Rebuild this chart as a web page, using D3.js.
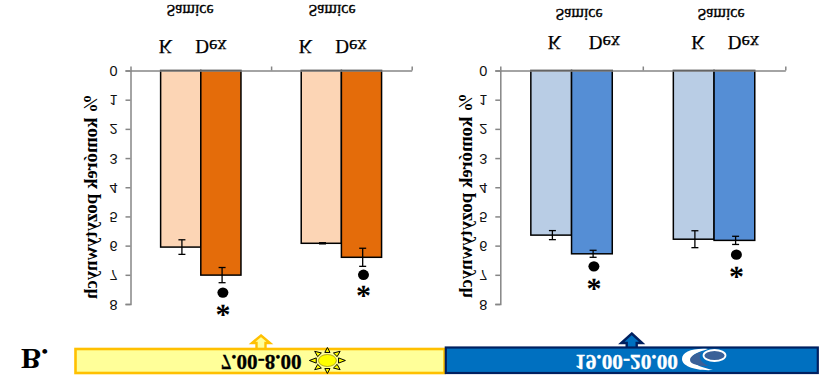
<!DOCTYPE html>
<html>
<head>
<meta charset="utf-8">
<script src="https://cdn.jsdelivr.net/npm/d3@7"></script>
<style>
  html, body { margin: 0; padding: 0; background: #fff; }
  svg { display: block; }
  text { fill: #000; }
  .serif { font-family: "Liberation Serif", serif; }
  .tick text { font-family: "Liberation Sans", sans-serif; font-size: 14.5px; fill: #111; }
</style>
</head>
<body>
<div id="chart"></div>
<script>
// picture is upside down in the source, so every text gets flipped on its own
const groups = ["Samice 1", "Samice 2"];
const groupLabel = "Samice";
const barLabels = ["K", "Dex"];
const yTicks = [0, 1, 2, 3, 4, 5, 6, 7, 8];
const yTitle = "% komórek pozytywnych";

const morningK = [6.05, 5.92];
const morningDex = [7.01, 6.4];
const morningKErr = [0.25, 0.02];
const morningDexErr = [0.26, 0.31];
const morningDot = [7.61, 7.0];
const morningStar = [8.27, 7.62];

const eveningK = [5.64, 5.78];
const eveningDex = [6.28, 5.82];
const eveningKErr = [0.155, 0.29];
const eveningDexErr = [0.12, 0.14];
const eveningDot = [6.71, 6.31];
const eveningStar = [7.38, 6.98];

const width = 820;
const height = 390;

const svg = d3.select("#chart").append("svg")
  .attr("width", width)
  .attr("height", height);

function flipText(parent, str, x, y, size, opts = {}) {
  return parent.append("text")
    .attr("class", "serif")
    .attr("transform", `translate(${x},${y}) scale(1,-1)`)
    .attr("text-anchor", opts.anchor || "middle")
    .attr("font-size", size)
    .attr("font-weight", opts.weight || "normal")
    .style("fill", opts.fill || "#000")
    .text(str);
}

const y = d3.scaleLinear().domain([0, 8]).range([70.5, 304]);

function drawPanel(p) {
  const g = svg.append("g");
  const xGroup = d3.scaleBand().domain(groups).range([p.left, p.right]);
  const xBar = d3.scaleBand().domain(barLabels)
    .range([0, xGroup.bandwidth()]).paddingOuter(p.outer);
  const xEdge = d3.scaleLinear().domain([0, groups.length]).range([p.left, p.right]);

  const rows = groups.flatMap((name, i) => [
    { name, bar: "K", value: p.k[i], err: p.kErr[i], fill: p.light },
    { name, bar: "Dex", value: p.dex[i], err: p.dexErr[i], fill: p.dark }
  ]);

  g.selectAll(".bar").data(rows).enter().append("rect")
    .attr("class", "bar")
    .attr("x", d => xGroup(d.name) + xBar(d.bar))
    .attr("y", y(0))
    .attr("width", xBar.bandwidth())
    .attr("height", d => y(d.value) - y(0))
    .attr("fill", d => d.fill)
    .attr("stroke", "#000")
    .attr("stroke-width", 1.5);

  const cx = d => xGroup(d.name) + xBar(d.bar) + xBar.bandwidth() / 2 + 1.2;
  const err = g.selectAll(".err").data(rows).enter().append("g").attr("class", "err")
    .attr("stroke", "#000").attr("stroke-width", 1.3);
  err.append("line")
    .attr("x1", cx).attr("x2", cx)
    .attr("y1", d => y(d.value - d.err)).attr("y2", d => y(d.value + d.err));
  err.append("line")
    .attr("x1", d => cx(d) - 3.5).attr("x2", d => cx(d) + 3.5)
    .attr("y1", d => y(d.value - d.err)).attr("y2", d => y(d.value - d.err));
  err.append("line")
    .attr("x1", d => cx(d) - 3.5).attr("x2", d => cx(d) + 3.5)
    .attr("y1", d => y(d.value + d.err)).attr("y2", d => y(d.value + d.err));

  // axes
  const yAxis = g.append("g")
    .attr("transform", `translate(${p.left},0)`)
    .call(d3.axisLeft(y).tickValues(yTicks).tickSize(5).tickSizeOuter(5));
  yAxis.selectAll("path, line").attr("stroke", "#868686").attr("stroke-width", 1.5);
  yAxis.selectAll("text")
    .attr("x", null).attr("dy", null)
    .attr("dominant-baseline", "central")
    .attr("transform", "translate(-13,0) scale(1,-1)");

  const xAxis = g.append("g")
    .attr("transform", `translate(0,${y(0)})`)
    .call(d3.axisTop(xEdge).tickValues([0, 1, 2]).tickFormat("").tickSize(4).tickSizeOuter(0));
  xAxis.selectAll("path, line").attr("stroke", "#868686").attr("stroke-width", 1.5);

  groups.forEach((name, i) => {
    flipText(g, groupLabel, p.samiceX[i], p.samiceY, 16).attr("stroke", "#000").attr("stroke-width", 0.35);
    flipText(g, barLabels[0], p.kX[i], p.labelY, 19).attr("stroke", "#000").attr("stroke-width", 0.25);
    flipText(g, barLabels[1], p.dexX[i], p.labelY, 19).attr("stroke", "#000").attr("stroke-width", 0.25);

    const dexX = xGroup(name) + xBar("Dex") + xBar.bandwidth() / 2 + 2;
    g.append("ellipse")
      .attr("cx", dexX).attr("cy", y(p.dot[i]))
      .attr("rx", 5.5).attr("ry", 5.2)
      .attr("fill", "#000");
    flipText(g, "*", dexX, y(p.star[i]) - 15, 30, { weight: "bold" });
  });

  g.append("text")
    .attr("class", "serif")
    .attr("transform", `translate(${p.titleX},${p.titleY}) scale(1,-1) rotate(-90)`)
    .attr("text-anchor", "start")
    .attr("font-size", 19)
    .attr("font-weight", "bold")
    .attr("textLength", 205)
    .attr("lengthAdjust", "spacingAndGlyphs")
    .text(yTitle);
}

drawPanel({
  left: 130.5, right: 411.7, outer: 0.75,
  k: morningK, dex: morningDex, kErr: morningKErr, dexErr: morningDexErr,
  dot: morningDot, star: morningStar,
  light: "#fcd5b5", dark: "#e46c0a",
  samiceX: [190, 332], samiceY: 5,
  kX: [165.5, 305.5], dexX: [211, 351], labelY: 40,
  titleX: 97, titleY: 94
});

drawPanel({
  left: 500.3, right: 785.3, outer: 0.75,
  k: eveningK, dex: eveningDex, kErr: eveningKErr, dexErr: eveningDexErr,
  dot: eveningDot, star: eveningStar,
  light: "#b9cde5", dark: "#558ed5",
  samiceX: [579, 721], samiceY: 9,
  kX: [554.5, 698], dexX: [604.5, 743.5], labelY: 36,
  titleX: 472, titleY: 93
});

// bottom time bars
function upArrow(cx, tip, base, bottom, headW, shaftW) {
  const p = d3.path();
  p.moveTo(cx, tip);
  p.lineTo(cx + headW, base);
  p.lineTo(cx + shaftW, base);
  p.lineTo(cx + shaftW, bottom);
  p.lineTo(cx - shaftW, bottom);
  p.lineTo(cx - shaftW, base);
  p.lineTo(cx - headW, base);
  p.closePath();
  return p.toString();
}

const strip = svg.append("g");

strip.append("path")
  .attr("d", upArrow(261, 335.5, 343, 350, 9, 4.5))
  .attr("fill", "#ffff99").attr("stroke", "#ffc000").attr("stroke-width", 2.4);
strip.append("rect")
  .attr("x", 75.5).attr("y", 349).attr("width", 369).attr("height", 24)
  .attr("fill", "#ffff99").attr("stroke", "#ffc000").attr("stroke-width", 2.6);

strip.append("path")
  .attr("d", upArrow(631.7, 333.5, 343, 349, 10.5, 5))
  .attr("fill", "#0070c0").attr("stroke", "#002060").attr("stroke-width", 2.4);
strip.append("rect")
  .attr("x", 445.8).attr("y", 347.5).attr("width", 372).attr("height", 25.5)
  .attr("fill", "#0070c0").attr("stroke", "#002060").attr("stroke-width", 2.2);

flipText(strip, "7.00-8.00", 220.7, 355, 20, { anchor: "start", weight: "bold" })
  .attr("textLength", 81).attr("lengthAdjust", "spacingAndGlyphs")
  .attr("stroke", "#000").attr("stroke-width", 0.3);
flipText(strip, "19.00-20.00", 575, 355, 20, { anchor: "start", weight: "bold", fill: "#fff" })
  .attr("textLength", 103).attr("lengthAdjust", "spacingAndGlyphs")
  .attr("stroke", "#fff").attr("stroke-width", 0.3);
flipText(strip, "B.", 21, 349, 30, { anchor: "start", weight: "bold" });

// sun icon
const sun = strip.append("g").attr("transform", "translate(327.4,360.5)");
d3.range(8).forEach(i => {
  const a = i * Math.PI / 4;
  const rx = 18, ry = 13;
  const tx = Math.cos(a) * rx, ty = Math.sin(a) * ry;
  const nx = -Math.sin(a) * 2.6, ny = Math.cos(a) * 2.6;
  const mx = Math.cos(a) * rx * 0.62, my = Math.sin(a) * ry * 0.62;
  sun.append("path")
    .attr("d", `M${tx},${ty}L${mx + nx},${my + ny}L${mx - nx},${my - ny}Z`)
    .attr("fill", "#ffff00").attr("stroke", "#000").attr("stroke-width", 1);
});
sun.append("ellipse")
  .attr("rx", 9).attr("ry", 6)
  .attr("fill", "#ffff00").attr("stroke", "#807000").attr("stroke-width", 0.6);

// crescent with cloud
const night = strip.append("g");
night.append("path")
  .attr("d", "M713,370C695,371 682,366 682,359C682,352 692,348 708,349C698,352 690,355 692,360C694,365 704,368 713,370Z")
  .attr("fill", "#fff");
night.append("path")
  .attr("d", "M690,360C690,356 696,353 702,352C698,356 699,362 709,366C698,366 690,364 690,360Z")
  .attr("fill", "#3a6098");
night.append("ellipse").attr("cx", 714.5).attr("cy", 355.5).attr("rx", 11).attr("ry", 5.5).attr("fill", "#3a6098").attr("stroke", "#fff").attr("stroke-width", 1.8);
</script>
</body>
</html>
